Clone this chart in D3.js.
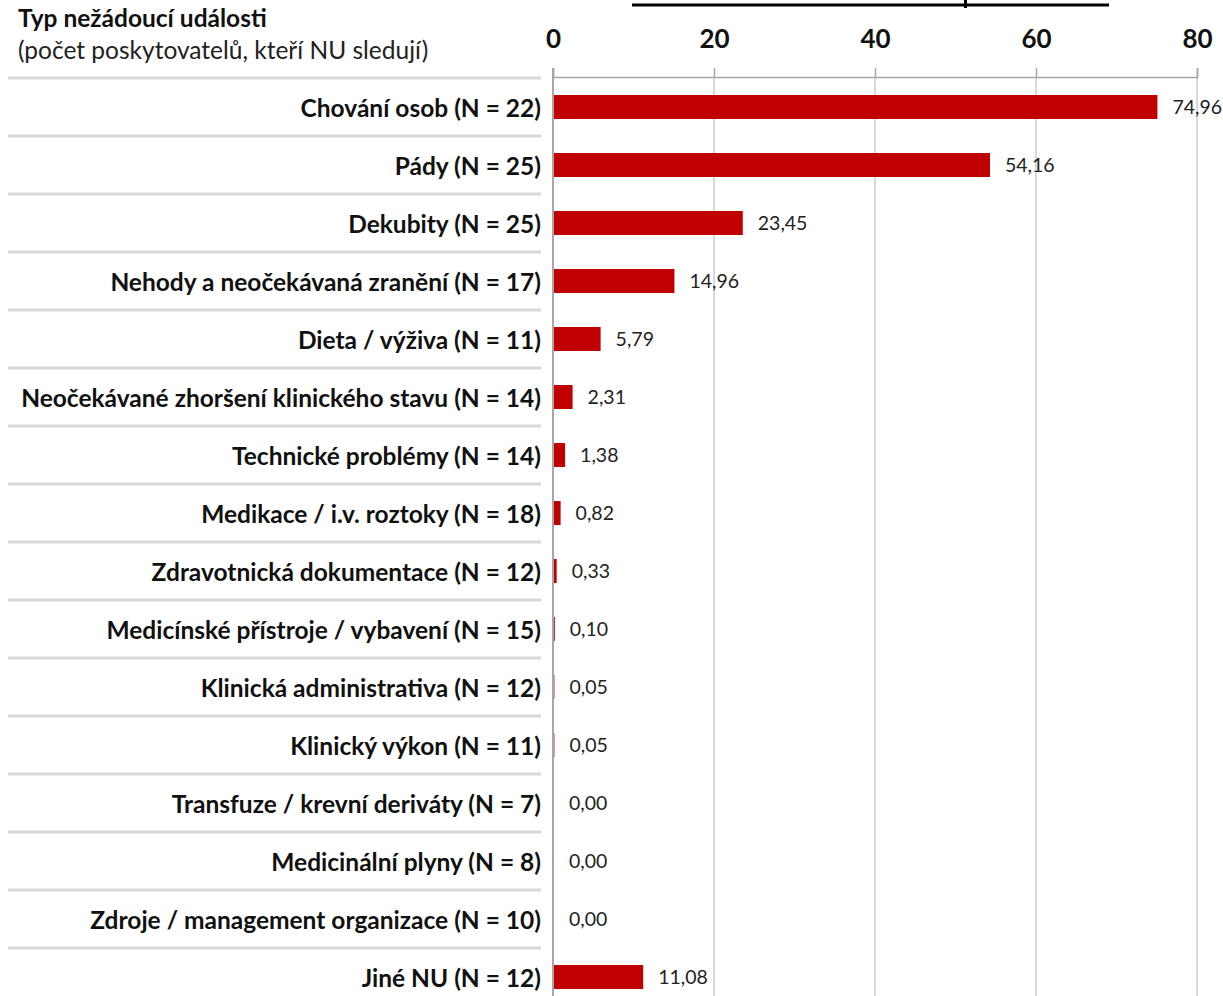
<!DOCTYPE html>
<html>
<head>
<meta charset="utf-8">
<script src="https://cdn.jsdelivr.net/npm/d3@7"></script>
<style>
  html, body { margin: 0; padding: 0; background: #fff; }
  svg { display: block; font-family: Lato, "Open Sans", sans-serif; }
</style>
</head>
<body>
<svg id="chart" width="1223" height="996"></svg>
<script>
// Event types with number of providers tracking them
const categories = [
  "Chování osob (N = 22)",
  "Pády (N = 25)",
  "Dekubity (N = 25)",
  "Nehody a neočekávaná zranění (N = 17)",
  "Dieta / výživa (N = 11)",
  "Neočekávané zhoršení klinického stavu (N = 14)",
  "Technické problémy (N = 14)",
  "Medikace / i.v. roztoky (N = 18)",
  "Zdravotnická dokumentace (N = 12)",
  "Medicínské přístroje / vybavení (N = 15)",
  "Klinická administrativa (N = 12)",
  "Klinický výkon (N = 11)",
  "Transfuze / krevní deriváty (N = 7)",
  "Medicinální plyny (N = 8)",
  "Zdroje / management organizace (N = 10)",
  "Jiné NU (N = 12)"
];
const values = [74.96, 54.16, 23.45, 14.96, 5.79, 2.31, 1.38, 0.82, 0.33, 0.10, 0.05, 0.05, 0.00, 0.00, 0.00, 11.08];
const tickValues = [0, 20, 40, 60, 80];
const headerTitle = "Typ nežádoucí události";
const headerSubtitle = "(počet poskytovatelů, kteří NU sledují)";

const svg = d3.select("#chart");
const W = 1223, H = 996;
const plotLeft = 553, plotRight = 1197;
const axisY = 77, rowsTop = 78, rowStep = 58;

const x = d3.scaleLinear().domain([0, 80]).range([plotLeft, plotRight]);
const y = d3.scaleBand()
  .domain(categories)
  .range([rowsTop, rowsTop + rowStep * categories.length])
  .paddingInner(0.586)
  .paddingOuter(0.293);

const fmt = v => d3.format(".2f")(v).replace(".", ",");

// Row separators in the label column
svg.append("g")
  .selectAll("line")
  .data(categories)
  .join("line")
  .attr("x1", 8).attr("x2", 541)
  .attr("y1", (d, i) => rowsTop + i * rowStep)
  .attr("y2", (d, i) => rowsTop + i * rowStep)
  .attr("stroke", "#d9d9d9")
  .attr("stroke-width", 3);

// Vertical gridlines
svg.append("g")
  .selectAll("line")
  .data(tickValues.filter(t => t > 0))
  .join("line")
  .attr("x1", d => x(d)).attr("x2", d => x(d))
  .attr("y1", axisY).attr("y2", H)
  .attr("stroke", "#d9d9d9")
  .attr("stroke-width", 2);

// Top axis with ticks
const axis = d3.axisTop(x).tickValues(tickValues).tickSize(9).tickPadding(20).tickFormat(d3.format("d"));
const ag = svg.append("g").attr("transform", `translate(0,${axisY})`).call(axis);
ag.select(".domain").attr("stroke", "#a6a6a6").attr("stroke-width", 1.5);
ag.selectAll(".tick line").attr("stroke", "#a6a6a6").attr("stroke-width", 1.5);
ag.selectAll(".tick text")
  .attr("fill", "#111")
  .style("font-family", "Lato, sans-serif")
  .style("font-weight", 700)
  .style("font-size", "26px");

// Zero axis line
svg.append("line")
  .attr("x1", x(0)).attr("x2", x(0))
  .attr("y1", axisY - 9).attr("y2", H)
  .attr("stroke", "#a6a6a6")
  .attr("stroke-width", 2);

// Bars
svg.append("g")
  .selectAll("rect")
  .data(values)
  .join("rect")
  .attr("x", x(0) + 1)
  .attr("y", (d, i) => y(categories[i]))
  .attr("width", d => Math.max(0, x(d) - x(0)))
  .attr("height", y.bandwidth())
  .attr("fill", "#c00000");

// Value labels
svg.append("g")
  .selectAll("text")
  .data(values)
  .join("text")
  .attr("x", d => x(d) + 16)
  .attr("y", (d, i) => y(categories[i]) + y.bandwidth() / 2)
  .attr("dy", "0.35em")
  .attr("fill", "#222")
  .style("font-size", "19.5px")
  .text(d => fmt(d));

// Category labels
svg.append("g")
  .selectAll("text")
  .data(categories)
  .join("text")
  .attr("x", 541)
  .attr("y", d => y(d) + y.bandwidth() / 2 + 1)
  .attr("dy", "0.35em")
  .attr("text-anchor", "end")
  .attr("fill", "#111")
  .style("font-weight", 700)
  .style("font-size", "24.5px")
  .text(d => d);

// Header of the label column
svg.append("text")
  .attr("x", 18).attr("y", 27)
  .attr("fill", "#111")
  .style("font-weight", 700)
  .style("font-size", "24.5px")
  .text(headerTitle);
svg.append("text")
  .attr("x", 18).attr("y", 59)
  .attr("fill", "#222")
  .style("font-size", "24.5px")
  .text(headerSubtitle);

// Underline of the chart title above
svg.append("line")
  .attr("x1", 632).attr("x2", 1109)
  .attr("y1", 5).attr("y2", 5)
  .attr("stroke", "#000")
  .attr("stroke-width", 3);
svg.append("rect")
  .attr("x", 964).attr("y", 0)
  .attr("width", 3).attr("height", 8)
  .attr("fill", "#000");
</script>
</body>
</html>
